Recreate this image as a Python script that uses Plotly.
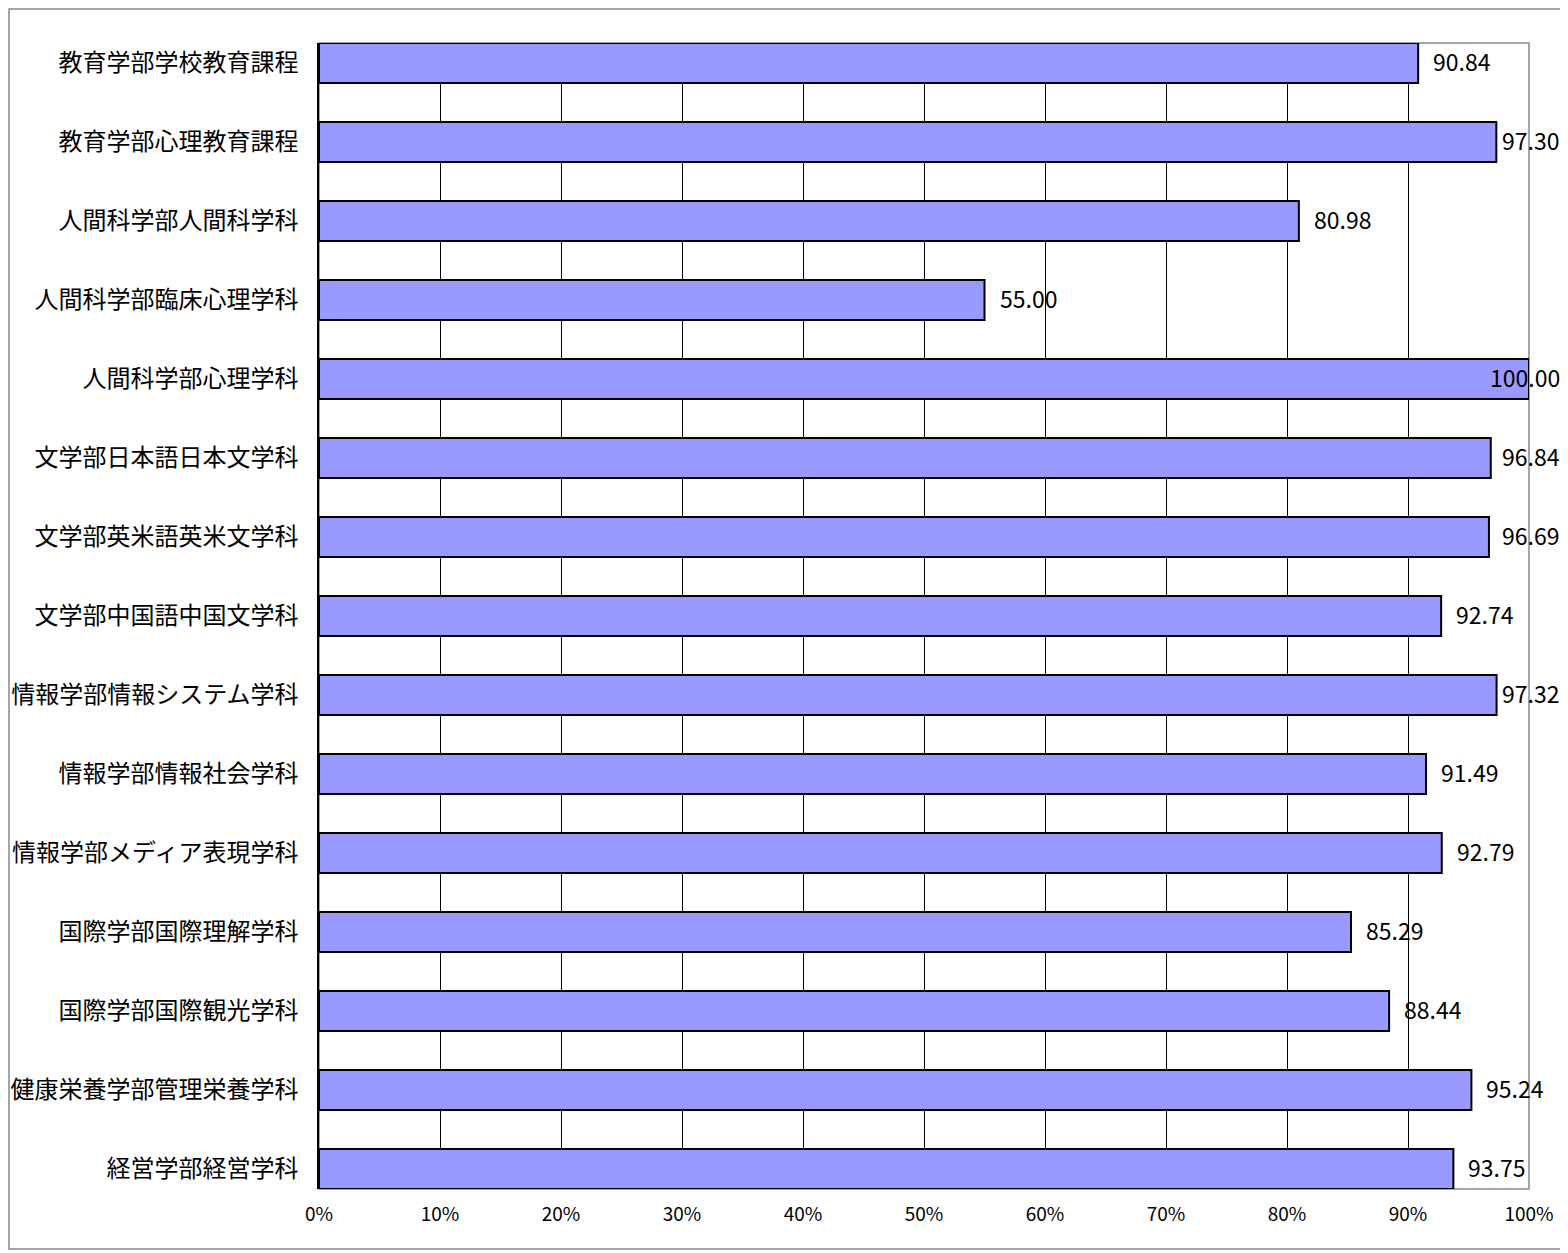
import plotly.graph_objects as go

categories = ["教育学部学校教育課程", "教育学部心理教育課程", "人間科学部人間科学科", "人間科学部臨床心理学科",
              "人間科学部心理学科", "文学部日本語日本文学科", "文学部英米語英米文学科", "文学部中国語中国文学科",
              "情報学部情報システム学科", "情報学部情報社会学科", "情報学部メディア表現学科", "国際学部国際理解学科",
              "国際学部国際観光学科", "健康栄養学部管理栄養学科", "経営学部経営学科"]
values = [90.84, 97.30, 80.98, 55.00, 100.00, 96.84, 96.69, 92.74, 97.32, 91.49, 92.79, 85.29, 88.44, 95.24, 93.75]
x_ticks = [0, 10, 20, 30, 40, 50, 60, 70, 80, 90, 100]

FONT = "Noto Sans CJK JP, Noto Sans, sans-serif"
W = 1560
H = 1245
ml, mr, mt, mb = 311, 39, 35, 64
bw = 0.506

pw = W - ml - mr
ph = H - mt - mb

fig = go.Figure()
fig.add_trace(go.Bar(
    x=values, y=categories, orientation="h",
    width=bw,
    marker=dict(color="#9999FF", line=dict(color="#000000", width=2)),
    hoverinfo="x+y",
))

# value labels: placed right of bar end, kept inside the chart's right edge
label_limit = W - 8  # right limit inside the figure, in figure pixels
for c, v in zip(categories, values):
    txt = f"{v:.2f}"
    est_w = 12.0 * len(txt)
    px = ml + v / 100 * pw
    shift = min(13, label_limit - est_w - px)
    fig.add_annotation(x=v, y=c, xref="x", yref="y", text=txt,
                       showarrow=False, xanchor="left", xshift=shift, yshift=2,
                       font=dict(family=FONT, size=23, color="#000000"))

fig.add_shape(type="rect", xref="paper", yref="paper", x0=0, x1=1, y0=0, y1=1,
              line=dict(color="#888888", width=1.5), layer="between")
fig.add_shape(type="rect", xref="paper", yref="paper",
              x0=(1 - ml) / pw, x1=(W - 1 - ml) / pw,
              y0=(mt + ph - (H - 4)) / ph, y1=(mt + ph - 1) / ph,
              line=dict(color="#888888", width=1.5), layer="below")

fig.update_layout(
    width=W, height=H,
    margin=dict(l=ml, r=mr, t=mt, b=mb, autoexpand=False),
    plot_bgcolor="#FFFFFF", paper_bgcolor="#FFFFFF",
    showlegend=False,
    font=dict(family=FONT, color="#000000"),
    xaxis=dict(range=[0, 100], tickvals=x_ticks, ticktext=[f"{t}%" for t in x_ticks],
               showgrid=True, gridcolor="#000000", gridwidth=1, zeroline=False,
               showline=False, ticks="", ticklabelstandoff=12, automargin=False,
               tickfont=dict(family=FONT, size=19, color="#000000")),
    yaxis=dict(type="category", categoryorder="array", categoryarray=categories,
               range=[len(categories) - 1 + bw / 2, -bw / 2],
               showgrid=False, zeroline=False, showline=True, linecolor="#000000", linewidth=1.5,
               ticks="", ticklabelstandoff=14, automargin=False,
               tickfont=dict(family=FONT, size=24, color="#000000")),
)

fig.write_html("out.html")
